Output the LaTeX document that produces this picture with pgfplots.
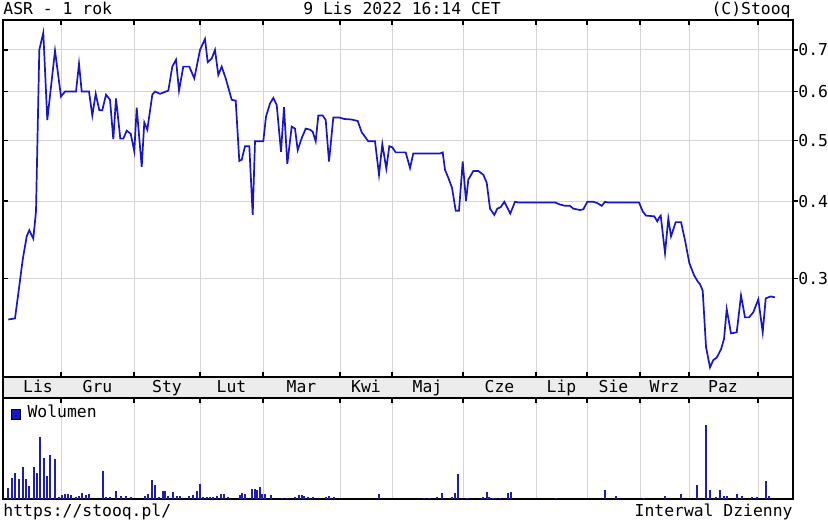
\documentclass[border=0pt]{standalone}
\usepackage{pgfplots}
\usepackage{pgfplotstable}
\pgfplotsset{compat=1.18}
\usepackage{fontspec}
\setmainfont{DejaVu Sans Mono}
\setmonofont{DejaVu Sans Mono}
\definecolor{lineblue}{RGB}{22,22,200}
\definecolor{barblue}{RGB}{30,30,170}
\definecolor{bandgray}{RGB}{236,236,236}
\definecolor{gridgray}{RGB}{212,212,212}

\pgfplotstableread{
x v
8.3 0.258
15 0.259
18.3 0.284
22.7 0.322
26.7 0.351
29.3 0.359
33.3 0.348
36 0.385
39.3 0.700
43.3 0.746
47.3 0.540
55 0.698
61 0.589
65 0.600
76 0.600
79 0.665
81.7 0.600
89 0.600
92.3 0.549
95.7 0.595
99.3 0.560
102.3 0.560
106 0.593
110 0.582
113.3 0.503
116 0.585
120.3 0.504
123.3 0.504
126.7 0.519
130.7 0.513
134.3 0.481
136.7 0.565
141.7 0.454
144.3 0.535
147.3 0.521
152.3 0.593
155 0.600
160 0.595
168.3 0.602
172.3 0.658
176 0.675
179 0.602
183.3 0.658
189.3 0.658
194.3 0.630
200 0.700
205 0.729
207.7 0.669
211.7 0.678
215 0.700
218.3 0.638
221.7 0.658
225.7 0.630
231.7 0.582
235.7 0.580
239.3 0.464
241.7 0.466
245 0.490
249.3 0.490
252.7 0.380
255 0.499
263.3 0.499
266 0.547
270 0.574
273.3 0.586
276.7 0.571
281 0.480
284 0.566
287.3 0.459
291.7 0.527
295 0.523
297.7 0.483
301.7 0.505
305.7 0.523
310 0.521
312.7 0.517
315.7 0.499
318.3 0.549
322.7 0.549
325.7 0.540
329 0.463
333.3 0.545
339.3 0.545
344.3 0.542
351.7 0.541
357.7 0.538
361.7 0.516
368.3 0.499
375 0.499
379 0.441
382.3 0.494
386.3 0.451
389.3 0.490
392.3 0.488
395.7 0.479
405.7 0.479
410 0.452
413.3 0.477
440 0.477
442.7 0.479
445 0.449
448.3 0.436
452 0.420
455.7 0.386
459 0.386
462.7 0.463
466 0.400
468.3 0.433
473.3 0.447
478.3 0.447
483.3 0.441
486.7 0.428
490 0.389
494.3 0.380
497.3 0.389
500.7 0.391
504.3 0.399
510.3 0.382
515 0.399
518.3 0.398
555 0.398
560 0.395
565 0.393
570 0.393
573.3 0.389
580 0.387
583.3 0.388
587.3 0.399
593.3 0.399
597.3 0.397
601.7 0.393
605 0.399
607.7 0.398
639 0.398
642.7 0.385
646 0.379
654.3 0.378
657.3 0.371
659 0.376
660.7 0.379
665 0.330
668.3 0.375
671 0.351
675.7 0.370
681 0.370
685 0.346
689.3 0.318
694 0.304
697.7 0.297
700 0.294
702.7 0.287
706 0.233
710 0.216
713.3 0.222
716.7 0.224
721 0.231
724 0.240
726.7 0.268
731 0.245
736.7 0.246
741 0.282
745 0.260
749 0.260
753.3 0.265
758.3 0.278
762.7 0.246
765.7 0.279
770.7 0.281
775 0.280
}\pricedata

\pgfplotstableread{
x vol
7.7 11.4
12.3 21.3
15.3 26.3
18.7 20
23 32
26.3 20
29 12.7
33.7 32
36.7 26
39.7 62.3
44 41
47 23
50.3 44.3
54.7 40
59 2
62 3.7
65 5
68 5
71 3.7
76 2
78.7 2.7
81.7 6.3
85.7 4.3
88.7 5
102.7 27.7
106 2
110 2
116 8
121 3
126 3
130.7 2
144.7 2.7
148 5.3
152 18.7
155 13.7
158.7 2.3
162.7 8.3
165.3 8.3
168.3 3
173.3 6.7
176.7 2.7
180 3
189 2.7
193.3 3.7
196.7 8
200 14.7
203.3 2.3
206.7 2
210 2.3
213.3 2.3
216.7 2.7
220.7 5.3
224 5.3
228.3 2.3
240 3.7
242.3 5.7
245 4.7
252.3 10.3
254.7 9.7
257 8.7
259.7 12
262 4.7
265.3 4.7
270.7 4
281.7 1.3
286.7 1.3
295 2.3
299 3.7
301.7 4
304.3 3
308.3 2
313.3 1.7
326 2
329.3 3
334 1.7
379 4.7
424 1.3
429 1.3
436.7 2
441.7 5.7
452.3 2
454.7 5.7
458 25.3
465.7 1.3
468.3 1.3
483.3 2
486.7 7.3
489 2
493 1.3
496.3 1.3
500 1.3
508 6
510.7 7.3
556.3 1.3
605 9
615.7 3
644 1.3
665 2.7
681.3 4.7
696.7 13.7
705.7 73.7
710 9
715.7 2
720.3 9
724 3
726.7 3
736.7 4.7
741.7 3
752.3 2
756.7 2
765.7 18
769 3
}\voldata

\begin{document}
\begin{tikzpicture}[font=\fontsize{8.2}{10}\selectfont]
\useasboundingbox (0,0) rectangle (414pt,-261pt);
% month band
\filldraw[fill=bandgray, draw=black, line width=0.75pt] (1.5pt,-188.5pt) rectangle (396.5pt,-199pt);
\begin{axis}[
  at={(1.5pt,-188.5pt)}, anchor=south west,
  scale only axis, width=395pt, height=178.5pt,
  xmin=3, xmax=793, ymode=log, ymin=0.2085, ymax=0.782,
  xtick={61,134,200,263,340,392,463,536,587,640,689,758},
  xticklabels={},
  ytick={0.3,0.4,0.5,0.6,0.7},
  yticklabels={0.3,0.4,0.5,0.6,0.7},
  ytick pos=left, yticklabel pos=right,
  tick align=inside, major tick length=2.5pt,
  grid=major, grid style={gridgray, line width=0.5pt},
  axis line style={line width=0.75pt},
  tick style={black, line width=0.6pt},
  yticklabel style={anchor=west, inner sep=0pt, xshift=2.5pt},
  /pgf/number format/assume math mode=true,
  clip=false,
]
\addplot[lineblue, line width=0.85pt] table[x=x,y=v]{\pricedata};
\draw[line width=0.6pt] (axis cs:793,0.3) -- ++(2.5pt,0pt);
\draw[line width=0.6pt] (axis cs:793,0.4) -- ++(2.5pt,0pt);
\draw[line width=0.6pt] (axis cs:793,0.5) -- ++(2.5pt,0pt);
\draw[line width=0.6pt] (axis cs:793,0.6) -- ++(2.5pt,0pt);
\draw[line width=0.6pt] (axis cs:793,0.7) -- ++(2.5pt,0pt);
\end{axis}
\begin{axis}[
  at={(1.5pt,-249.5pt)}, anchor=south west,
  scale only axis, width=395pt, height=50.5pt,
  xmin=3, xmax=793, ymin=0, ymax=101,
  xtick={61,134,200,263,340,392,463,536,587,640,689,758},
  xticklabels={}, xtick pos=right, ytick=\empty,
  tick align=inside, major tick length=2.5pt,
  xmajorgrids, grid style={gridgray, line width=0.5pt},
  axis line style={line width=0.75pt},
  tick style={black, line width=0.6pt},
  legend style={at={(0,1)}, anchor=north west, draw=none, fill=none,
    inner xsep=0pt, inner ysep=0pt, xshift=3.5pt, yshift=-2.5pt,
    font=\fontsize{8.2}{10}\selectfont,
    nodes={inner sep=1pt, anchor=base west}},
  legend image code/.code={\path[draw=none,fill=none] (0pt,0pt) rectangle (7.6pt,0.1pt); \draw[fill=lineblue, draw=black, line width=0.3pt] (0.3pt,-0.6pt) rectangle (4.9pt,4.1pt);},
]
\addplot[ycomb, barblue, line width=0.95pt] table[x=x,y=vol]{\voldata};
\addlegendentry{Wolumen}
\end{axis}
% month labels
\foreach \mx/\mn in {38/Lis, 97.5/Gru, 167/Sty, 231.5/Lut, 301.5/Mar, 366/Kwi, 427.5/Maj, 499.5/Cze, 561.5/Lip, 613.5/Sie, 664.5/Wrz, 723/Paz}
  \node[anchor=base, inner sep=0pt] at ({\mx*0.5pt},-196.2pt) {\mn};
% header and footer
\node[anchor=base west, inner sep=0pt] at (1.5pt,-7.5pt) {ASR - 1 rok};
\node[anchor=base, inner sep=0pt] at (201pt,-7.5pt) {9 Lis 2022 16:14 CET};
\node[anchor=base east, inner sep=0pt] at (395.5pt,-7.5pt) {(C)Stooq};
\node[anchor=base west, inner sep=0pt] at (1.5pt,-258.2pt) {https://stooq.pl/};
\node[anchor=base east, inner sep=0pt] at (396.5pt,-258.2pt) {Interwal Dzienny};
\end{tikzpicture}
\end{document}
